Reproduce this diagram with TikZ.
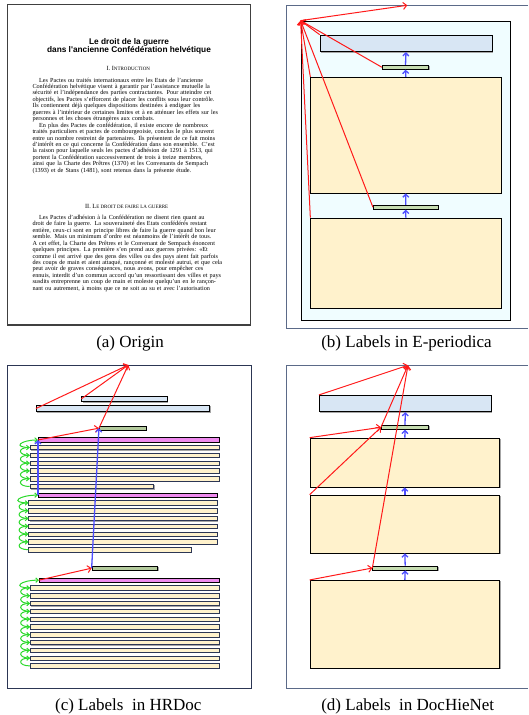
\documentclass[tikz,border=0pt]{standalone}
\usepackage{fontspec}
\setmainfont{Liberation Serif}
\newfontfamily\titlefont{Liberation Sans}
\usetikzlibrary{arrows.meta,positioning,fit,shadows}
\definecolor{linkred}{HTML}{FF1A1A}
\definecolor{siblingblue}{HTML}{4D4DFF}
\definecolor{loopgreen}{HTML}{2BD92B}
\definecolor{titlefill}{HTML}{D8E6F4}
\definecolor{parafill}{HTML}{FFF2CC}
\definecolor{secfill}{HTML}{C6DDB1}
\definecolor{secdark}{HTML}{B3CA9C}
\definecolor{headfill}{HTML}{EE8AEE}
\definecolor{pagefill}{HTML}{F0FDFF}
\definecolor{framegray}{HTML}{5B6A88}
\definecolor{framenavy}{HTML}{2C3654}
\newcommand{\jl}[1]{\makebox[190pt][s]{#1}}
\newcommand{\jli}[1]{\hspace*{6.7pt}\makebox[183.3pt][s]{#1}}
\newcommand{\blk}[6]{\node[#2, fit={(#3,#4) (#5,#6)}] (#1) {};}

\tikzset{
  region/.style={draw=black, line width=0.7pt, inner sep=0pt,
    drop shadow={shadow xshift=0.9pt, shadow yshift=-0.9pt, fill=gray!70, opacity=1}},
  titlebox/.style={region, fill=titlefill},
  parabox/.style={region, fill=parafill},
  secbox/.style={region, fill=secfill},
  hrsecbox/.style={region, fill=secdark},
  headbox/.style={region, fill=headfill},
  txtline/.style={region, draw=framenavy, fill=parafill, line width=0.6pt},
  redlink/.style={linkred, line width=1pt, -{Straight Barb[length=3.5pt,width=7pt]}},
  bluelink/.style={siblingblue, line width=1.3pt, -{Straight Barb[length=3pt,width=6pt]}},
  greenloop/.style={loopgreen, line width=1pt, -{Straight Barb[length=2.5pt,width=4.5pt]},
    out=180, in=180, looseness=4},
  body/.style={anchor=base west, inner sep=0pt, text width=190pt, align=left,
    font=\fontsize{6.2}{6.45}\selectfont},
  caption/.style={font=\fontsize{17}{20}\selectfont, anchor=base},
}

\begin{document}
\begin{tikzpicture}[x=1pt, y=-1pt]
  \useasboundingbox (0,0) rectangle (528,715);

  %% (a) the scanned page
  \draw[line width=1.1pt, draw=black!75] (7.3,4.3) rectangle (250.7,325);
  \node[font=\titlefont\bfseries\fontsize{8.3}{9}\selectfont, anchor=base] (ttl1) at (129,44.6)
    {Le droit de la guerre};
  \node[font=\titlefont\bfseries\fontsize{8.3}{9}\selectfont, anchor=base] (ttl2) at (129,52)
    {dans l'ancienne Confédération helvétique};
  \node[font=\fontsize{6.3}{7}\selectfont, anchor=base] (sec1) at (128.3,70.2)
    {I. I{\fontsize{5}{6}\selectfont NTRODUCTION}};
  \node[body] (par1) at (32.3,82) {%
    \jli{Les Pactes ou traités internationaux entre les Etats de l'ancienne}\\
    \jl{Confédération helvétique visent à garantir par l'assistance mutuelle la}\\
    \jl{sécurité et l'indépendance des parties contractantes. Pour atteindre cet}\\
    \jl{objectifs, les Pactes s'efforcent de placer les conflits sous leur contrôle.}\\
    \jl{Ils contiennent déjà quelques dispositions destinées à endiguer les}\\
    \jl{guerres à l'intérieur de certaines limites et à en atténuer les effets sur les}\\
    personnes et les choses étrangères aux combats.\\
    \jli{En plus des Pactes de confédération, il existe encore de nombreux}\\
    \jl{traités particuliers et pactes de combourgeoisie, conclus le plus souvent}\\
    \jl{entre un nombre restreint de partenaires. Ils présentent de ce fait moins}\\
    \jl{d'intérêt en ce qui concerne la Confédération dans son ensemble. C'est}\\
    \jl{la raison pour laquelle seuls les pactes d'adhésion de 1291 à 1513, qui}\\
    \jl{portent la Confédération successivement de trois à treize membres,}\\
    \jl{ainsi que la Charte des Prêtres (1370) et les Convenants de Sempach}\\
    (1393) et de Stans (1481), sont retenus dans la présente étude.};
  \node[font=\fontsize{6.3}{7}\selectfont, anchor=base] (sec2) at (126.7,208)
    {II. L{\fontsize{5}{6}\selectfont E DROIT DE FAIRE LA GUERRE}};
  \node[body] (par2) at (32.3,219.3) {%
    \jli{Les Pactes d'adhésion à la Confédération ne disent rien quant au}\\
    \jl{droit de faire la guerre. La souveraineté des Etats confédérés restant}\\
    \jl{entière, ceux-ci sont en principe libres de faire la guerre quand bon leur}\\
    \jl{semble. Mais un minimum d'ordre est néanmoins de l'intérêt de tous.}\\
    \jl{A cet effet, la Charte des Prêtres et le Convenant de Sempach énoncent}\\
    \jl{quelques principes. La première s'en prend aux guerres privées: «Et}\\
    \jl{comme il est arrivé que des gens des villes ou des pays aient fait parfois}\\
    \jl{des coups de main et aient attaqué, rançonné et molesté autrui, et que cela}\\
    \jl{peut avoir de graves conséquences, nous avons, pour empêcher ces}\\
    \jl{ennuis, interdit d'un commun accord qu'un ressortissant des villes et pays}\\
    \jl{susdits entreprenne un coup de main et moleste quelqu'un en le rançon-}\\
    \jl{nant ou autrement, à moins que ce ne soit au su et avec l'autorisation}};

  %% (b) E-periodica
  \draw[framegray, line width=1pt] (528,5.3) -- (286.7,5.3) -- (286.7,328.3) -- (528,328.3);
  \node[draw=black, line width=0.8pt, fill=pagefill, inner sep=0pt,
    fit={(301,21) (510.7,320.7)}] (bpage) {};
  \blk{btitle}{titlebox}{320}{35}{492}{51.7}
  \blk{bsec1}{secbox}{382.3}{65.3}{428.7}{69.3}
  \blk{bpar1}{parabox}{310.7}{77.3}{501}{193}
  \blk{bsec2}{secbox}{373.3}{205.3}{438.3}{209.3}
  \blk{bpar2}{parabox}{310.7}{218}{501}{308.3}
  \coordinate (btop) at (407.3,5.3);
  \draw[redlink] (bpage.north west) -- (btop);
  \foreach \n/\a in {btitle/north west, bsec1/west, bpar1/north west, bsec2/west, bpar2/north west}
    \draw[redlink] (\n.\a) -- (bpage.north west);
  \draw[bluelink] (bsec1.north) -- (btitle.south);
  \draw[bluelink] (bpar1.north) -- (bsec1.south);
  \draw[bluelink] (bsec2.north) -- (bpar1.south);
  \draw[bluelink] (bpar2.north) -- (bsec2.south);

  %% (c) HRDoc
  \draw[framenavy, line width=0.9pt] (7.3,365) rectangle (251.7,688.3);
  \blk{ctitle1}{titlebox}{81.7}{396}{167.3}{401.7}
  \blk{ctitle2}{titlebox}{36.3}{405.3}{209.7}{411.7}
  \blk{csec1}{hrsecbox}{99.3}{426}{146.3}{430.3}
  \blk{ca-0}{headbox}{38.3}{437.7}{219}{442.3}
  \foreach \k in {1,...,5}{
    \pgfmathsetmacro\yt{445.3+(\k-1)*7.8}
    \blk{ca-\k}{txtline}{30}{\yt}{219}{\yt+4.4}
  }
  \blk{ca-6}{txtline}{30}{484.3}{153.7}{488.7}
  \blk{cb-0}{headbox}{38.3}{493}{217.3}{497.3}
  \foreach \k in {1,...,6}{
    \pgfmathsetmacro\yt{500.7+(\k-1)*7.8}
    \blk{cb-\k}{txtline}{28.7}{\yt}{217.3}{\yt+4.4}
  }
  \blk{cb-7}{txtline}{28.7}{547.5}{191.3}{551.9}
  \blk{csec2}{hrsecbox}{92}{566}{157.7}{570.3}
  \blk{cc-0}{headbox}{39.3}{578}{219.3}{582.3}
  \foreach \k in {1,...,11}{
    \pgfmathsetmacro\yt{585.7+(\k-1)*7.8}
    \blk{cc-\k}{txtline}{30.3}{\yt}{219.3}{\yt+4.4}
  }
  %% green: each line to the one above
  \foreach \i [count=\j] in {0,...,5}
    \draw[greenloop] (ca-\j.west) to (ca-\i.west);
  \foreach \i [count=\j] in {0,...,6}
    \draw[greenloop] (cb-\j.west) to (cb-\i.west);
  \foreach \i [count=\j] in {0,...,10}
    \draw[greenloop] (cc-\j.west) to (cc-\i.west);
  \coordinate (capex) at (128.3,365);
  \foreach \n in {ctitle2, ctitle1, csec1}
    \draw[redlink] (\n.west) -- (capex);
  \draw[redlink] (ca-0.west) -- (csec1.west);
  \draw[redlink] (cc-0.west) -- (csec2.west);
  \draw[bluelink] (cb-0.west) -- (ca-0.west);
  \draw[bluelink] (csec2.west) -- (csec1.west);

  %% (d) DocHieNet
  \draw[framegray, line width=1pt] (528,365.3) -- (286.7,365.3) -- (286.7,688.3) -- (528,688.3);
  \blk{dtitle}{titlebox}{319.3}{395.3}{491.3}{411.7}
  \blk{dsec1}{secbox}{381.3}{425.3}{428.7}{429.3}
  \blk{dpar1}{parabox}{310}{438}{499.7}{487}
  \blk{dpar2}{parabox}{310}{495}{499.7}{553}
  \blk{dsec2}{secbox}{372.7}{566}{437.7}{570}
  \blk{dpar3}{parabox}{310}{580.3}{499.7}{668}
  \coordinate (dapex) at (408,365.3);
  \foreach \n/\a in {dtitle/north west, dsec1/west, dsec2/west}
    \draw[redlink] (\n.\a) -- (dapex);
  \draw[redlink] (dpar1.north west) -- (dsec1.west);
  \draw[redlink] (dpar2.north west) -- (dsec1.west);
  \draw[redlink] (dpar3.north west) -- (dsec2.west);
  \draw[bluelink] (dsec1.north) -- (dtitle.south);
  \draw[bluelink] (dpar1.north) -- (dsec1.south);
  \draw[bluelink] (dpar2.north) -- (dpar1.south);
  \draw[bluelink] (dsec2.north) -- (dpar2.south);
  \draw[bluelink] (dpar3.north) -- (dsec2.south);

  %% captions
  \node[caption] (capa) at (130,347.5) {(a) Origin};
  \node[caption] (capb) at (406.5,347.5) {(b) Labels in E-periodica};
  \node[caption] (capc) at (128.3,710.7) {(c) Labels\ \ in HRDoc};
  \node[caption] (capd) at (407.7,710.7) {(d) Labels\ \ in DocHieNet};
\end{tikzpicture}
\end{document}
